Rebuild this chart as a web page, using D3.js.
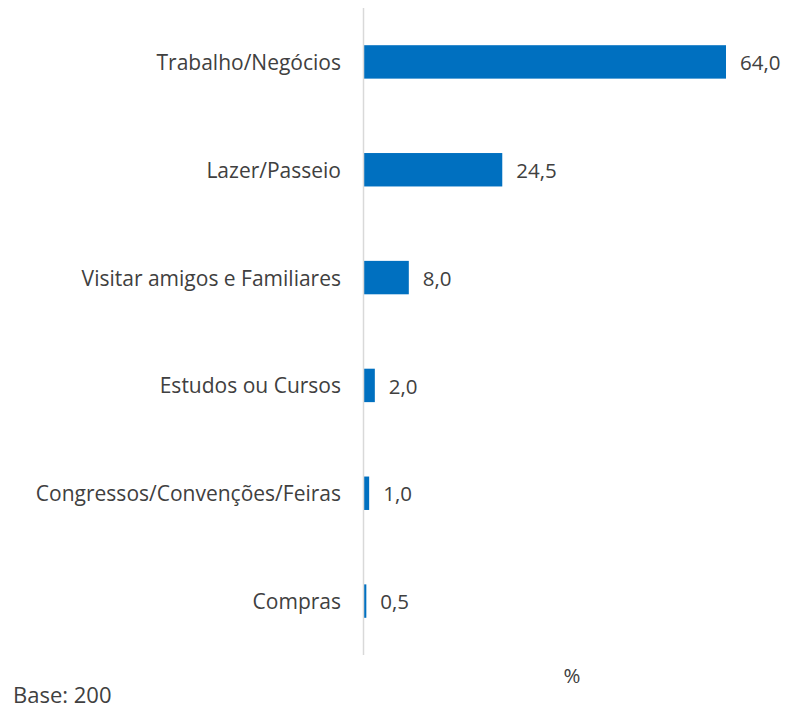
<!DOCTYPE html>
<html>
<head>
<meta charset="utf-8">
<script src="https://cdn.jsdelivr.net/npm/d3@7"></script>
<style>
  body { margin: 0; background: #fff; }
  text { font-family: "Open Sans", sans-serif; fill: #404040; }
</style>
</head>
<body>
<svg id="plot" width="790" height="710"></svg>
<script>
const categories = [
  "Trabalho/Negócios",
  "Lazer/Passeio",
  "Visitar amigos e Familiares",
  "Estudos ou Cursos",
  "Congressos/Convenções/Feiras",
  "Compras"
];
const values = [64.0, 24.5, 8.0, 2.0, 1.0, 0.5];
const data = categories.map((c, i) => ({ cat: c, val: values[i] }));

const svg = d3.select("#plot");
const fmt = v => d3.format(".1f")(v).replace(".", ",");

// Scales
const x = d3.scaleLinear().domain([0, 64]).range([363.5, 726]);
const y = d3.scaleBand()
  .domain(categories)
  .range([8, 655])
  .paddingInner(0.69)
  .paddingOuter(0.345);

// Bars
svg.selectAll("rect.bar")
  .data(data)
  .enter()
  .append("rect")
  .attr("class", "bar")
  .attr("x", x(0))
  .attr("y", d => y(d.cat))
  .attr("width", d => x(d.val) - x(0))
  .attr("height", y.bandwidth())
  .attr("fill", "#0070c0");

// Vertical axis line
svg.append("line")
  .attr("x1", x(0)).attr("x2", x(0))
  .attr("y1", 8).attr("y2", 655)
  .attr("stroke", "#d9d9d9")
  .attr("stroke-width", 1.5);

// Category labels
svg.selectAll("text.cat")
  .data(data)
  .enter()
  .append("text")
  .attr("class", "cat")
  .attr("x", 341)
  .attr("y", d => y(d.cat) + y.bandwidth() / 2)
  .attr("dy", "0.38em")
  .attr("text-anchor", "end")
  .style("font-size", "21px")
  .text(d => d.cat);

// Value labels
svg.selectAll("text.val")
  .data(data)
  .enter()
  .append("text")
  .attr("class", "val")
  .attr("x", d => x(d.val) + 14)
  .attr("y", d => y(d.cat) + y.bandwidth() / 2)
  .attr("dy", "0.4em")
  .style("font-size", "20.5px")
  .text(d => fmt(d.val));

// Axis title and note
svg.append("text")
  .attr("x", 572).attr("y", 683)
  .attr("text-anchor", "middle")
  .style("font-size", "20.5px")
  .text("%");

svg.append("text")
  .attr("x", 13).attr("y", 703)
  .style("font-size", "22px")
  .text("Base: 200");
</script>
</body>
</html>
